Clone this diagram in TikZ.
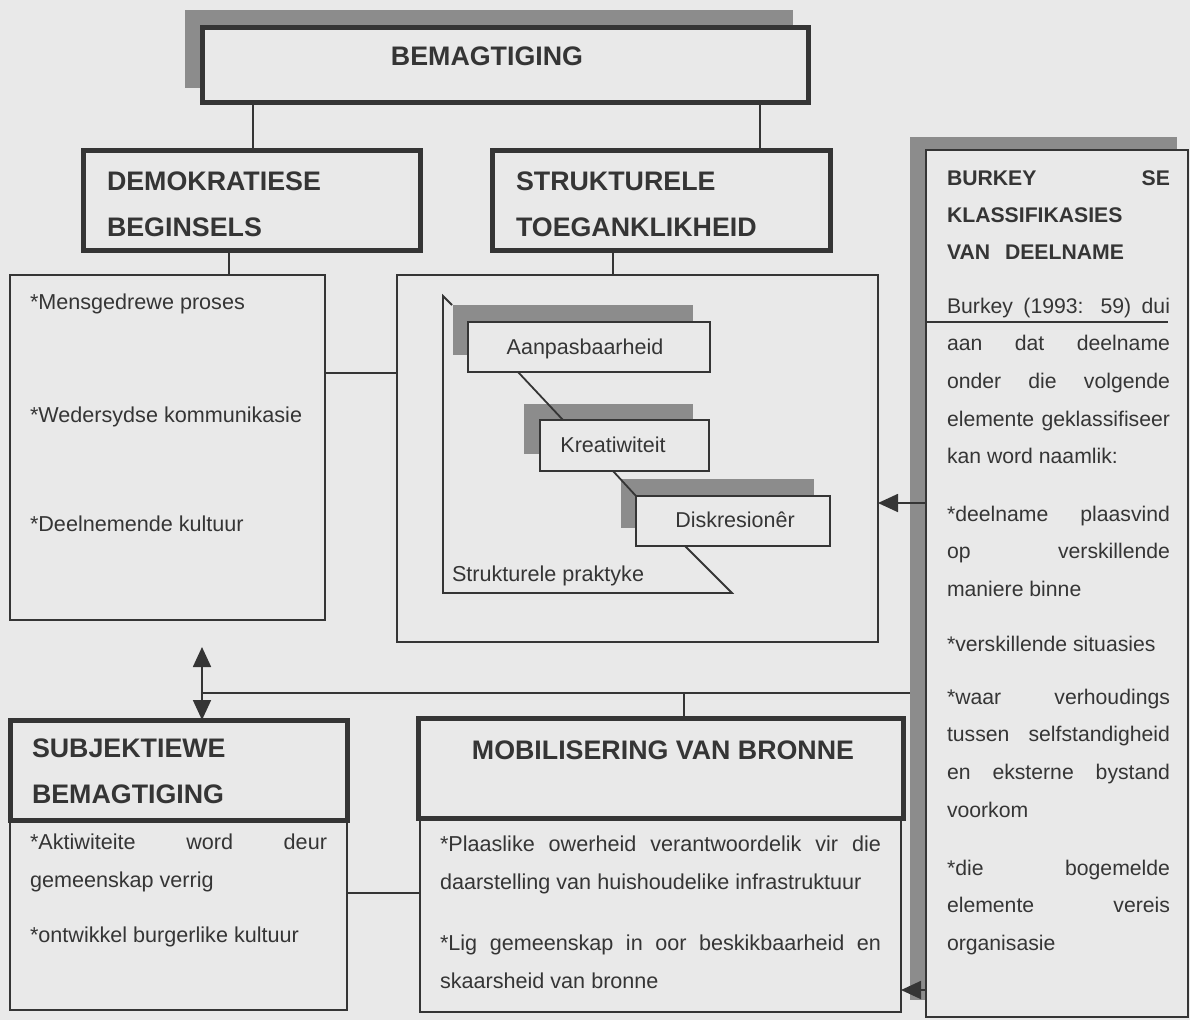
\documentclass[tikz,border=0pt]{standalone}
\usepackage{fontspec}
\setmainfont{Liberation Sans}
\usetikzlibrary{arrows.meta}
\definecolor{bg}{HTML}{E9E9E9}
\definecolor{ink}{HTML}{353535}
\definecolor{shade}{HTML}{8C8C8C}
\newcommand\jl[1]{\makebox[\linewidth][s]{#1}}
\newcommand\plines[2]{\parbox[t]{#1}{#2}}
\begin{document}
\begin{tikzpicture}[x=1pt,y=-1pt,
  every node/.style={inner sep=0pt, outer sep=0pt, text=ink},
  heavybox/.style={draw=ink, line width=5pt, fill=bg, rectangle},
  thinbox/.style={draw=ink, line width=1.8pt, fill=bg, rectangle},
  shadowbox/.style={fill=shade, draw=none, rectangle},
  conn/.style={draw=ink, line width=1.8pt},
  tri/.tip={Triangle[length=20pt,width=18pt]},
  tipl/.style={-tri},
  bothtip/.style={tri-tri},
  titletext/.style={font=\fontsize{26.8}{46}\selectfont\bfseries, anchor=base west},
  bodytext/.style={font=\fontsize{21.6}{38.5}\selectfont, anchor=base west},
  paneltext/.style={font=\fontsize{21.2}{37.7}\selectfont, anchor=base west},
  smalltext/.style={font=\fontsize{21.5}{26}\selectfont, anchor=base},
]
\fill[bg] (0,0) rectangle (1190,1020);
\useasboundingbox (0,0) rectangle (1190,1020);

% shadows
\node[shadowbox, minimum width=608, minimum height=78] (topsh) at (489,49) {};
\node[shadowbox, minimum width=267, minimum height=863] (pansh) at (1043.5,568.5) {};

% main boxes
\node[heavybox, minimum width=606, minimum height=75] (top) at (505,64.5) {};
\node[heavybox, minimum width=337, minimum height=100] (demo) at (251.5,200) {};
\node[heavybox, minimum width=338, minimum height=100] (strk) at (661,200) {};
\node[thinbox, minimum width=315, minimum height=345] (democ) at (167.5,447.5) {};
\node[thinbox, minimum width=481, minimum height=367] (strkc) at (637.5,458.5) {};
\node[thinbox, minimum width=337, minimum height=190] (subjc) at (178.5,915) {};
\node[heavybox, minimum width=337, minimum height=100] (subj) at (178.5,770) {};
\node[thinbox, minimum width=481, minimum height=194] (mobc) at (660.5,915) {};
\node[heavybox, minimum width=485, minimum height=100] (mob) at (660.5,768) {};
\node[thinbox, minimum width=262, minimum height=867] (burk) at (1057,583.5) {};

% folder outline inside the structural box
\coordinate (fa) at (452,305);
\coordinate (fb) at (443,296);
\coordinate (fc) at (443,593);
\coordinate (fd) at (732,593);
\coordinate (fe) at (685,546);
\draw[conn, line join=miter] (fa) -- (fb) -- (fc) -- (fd) -- (fe);

% inner shadows
\node[shadowbox, minimum width=240, minimum height=50] (aansh) at (573,330) {};
\node[shadowbox, minimum width=169, minimum height=50] (kresh) at (608.5,429) {};
\node[shadowbox, minimum width=193, minimum height=49] (dissh) at (717.5,503.5) {};

% diagonal links (over the shadows)
\draw[conn] (518,372) -- (563,420);
\draw[conn] (613,471) -- (636,496);

% inner boxes
\node[thinbox, minimum width=242, minimum height=50] (aan) at (589,347) {};
\node[thinbox, minimum width=169, minimum height=51] (kre) at (624.5,445.5) {};
\node[thinbox, minimum width=194, minimum height=50] (dis) at (733,521) {};

% connectors
\draw[conn] (253,0 |- top.south) -- (253,0 |- demo.north);
\draw[conn] (760,0 |- top.south) -- (760,0 |- strk.north);
\draw[conn] (229,0 |- demo.south) -- (229,0 |- democ.north);
\draw[conn] (613,0 |- strk.south) -- (613,0 |- strkc.north);
\draw[conn] (democ.east |- 0,373) -- (strkc.west |- 0,373);
\draw[conn] (subjc.east |- 0,893) -- (mobc.west |- 0,893);
\coordinate (dtop) at (202,647);
\coordinate (jn) at (202,693);
\draw[conn, bothtip] (dtop) -- (202,0 |- subj.north);
\draw[conn] (jn) -- (pansh.west |- jn);
\draw[conn] (684,693) -- (684,0 |- mob.north);
\draw[conn, tipl] (burk.west |- 0,503) -- (strkc.east |- 0,503);
\draw[conn, tipl] (burk.west |- 0,990) -- (mobc.east |- 0,990);
\draw[conn] (burk.west |- 0,322) -- (1168,322);

% titles
\node[titletext, anchor=base] (ttop) at (487,65) {BEMAGTIGING};
\node[titletext] (tdemo) at (107,190) {\plines{300pt}{DEMOKRATIESE\\BEGINSELS}};
\node[titletext] (tstrk) at (516,190) {\plines{300pt}{STRUKTURELE\\TOEGANKLIKHEID}};
\node[titletext] (tsubj) at (32,757) {\plines{300pt}{SUBJEKTIEWE\\BEMAGTIGING}};
\node[titletext, anchor=base] (tmob) at (663,759) {MOBILISERING VAN BRONNE};

% left content
\node[bodytext] (l1) at (30,309) {*Mensgedrewe proses};
\node[bodytext] (l2) at (30,422) {*Wedersydse kommunikasie};
\node[bodytext] (l3) at (30,531) {*Deelnemende kultuur};

% inner labels
\node[smalltext] (taan) at (585,354) {Aanpasbaarheid};
\node[smalltext] (tkre) at (613,452) {Kreatiwiteit};
\node[smalltext] (tdis) at (735,527) {Diskresionêr};
\node[bodytext] (tprak) at (452,581) {Strukturele praktyke};

% subjective content
\node[bodytext] (s1) at (30,849) {\plines{297pt}{\jl{*Aktiwiteite word deur}\\gemeenskap verrig}};
\node[bodytext] (s2) at (30,942) {*ontwikkel burgerlike kultuur};

% mobilisation content
\node[bodytext] (m1) at (440,851) {\plines{441pt}{\jl{*Plaaslike owerheid verantwoordelik vir die}\\daarstelling van huishoudelike infrastruktuur}};
\node[bodytext] (m2) at (440,950) {\plines{441pt}{\jl{*Lig gemeenskap in oor beskikbaarheid en}\\skaarsheid van bronne}};

% right panel
\node[paneltext, font=\fontsize{21.2}{37}\selectfont\bfseries] (p0) at (947,185) {\plines{223pt}{\jl{BURKEY SE}\\KLASSIFIKASIES\\\makebox[177pt][s]{VAN DEELNAME}}};
\node[paneltext] (p1) at (947,313) {\plines{223pt}{\jl{Burkey (1993: 59) dui}\\\jl{aan dat deelname}\\\jl{onder die volgende}\\\jl{elemente geklassifiseer}\\kan word naamlik:}};
\node[paneltext] (p2) at (947,521) {\plines{223pt}{\jl{*deelname plaasvind}\\\jl{op verskillende}\\maniere binne}};
\node[paneltext] (p3) at (947,651) {*verskillende situasies};
\node[paneltext] (p4) at (947,704) {\plines{223pt}{\jl{*waar verhoudings}\\\jl{tussen selfstandigheid}\\\jl{en eksterne bystand}\\voorkom}};
\node[paneltext] (p5) at (947,875) {\plines{223pt}{\jl{*die bogemelde}\\\jl{elemente vereis}\\organisasie}};
\end{tikzpicture}
\end{document}
